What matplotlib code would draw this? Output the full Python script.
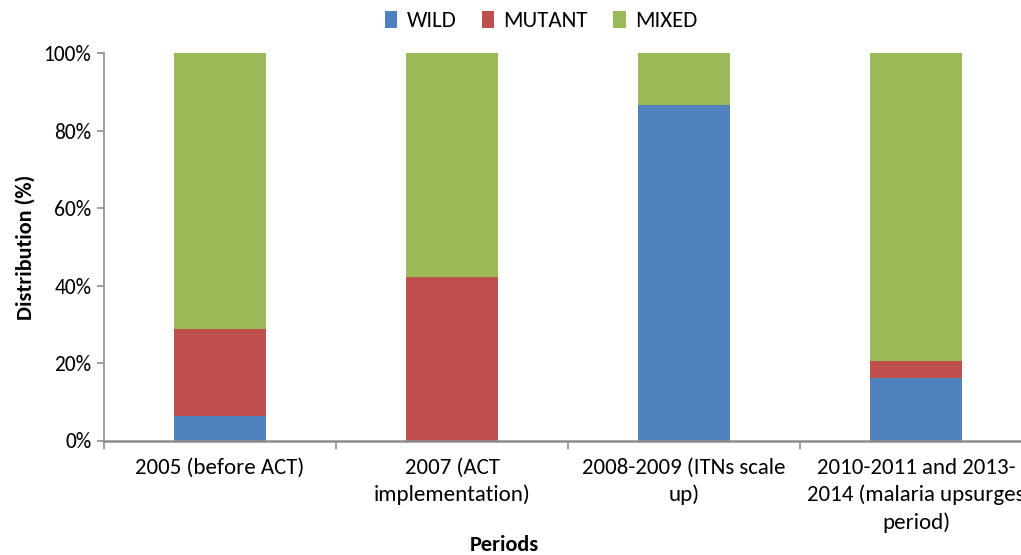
import matplotlib
matplotlib.use("Agg")
import matplotlib.pyplot as plt
import numpy as np

plt.rcParams['font.family'] = ['Carlito', 'Liberation Sans Narrow', 'Lato', 'DejaVu Sans']

categories = ["2005 (before ACT)", "2007 (ACT\nimplementation)", "2008-2009 (ITNs scale\nup)",
              "2010-2011 and 2013-\n2014 (malaria upsurges\nperiod)"]
series_names = ["WILD", "MUTANT", "MIXED"]
wild = [6.4, 0.0, 86.7, 16.2]
mutant = [22.4, 42.2, 0.0, 4.3]
mixed = [100 - w - m for w, m in zip(wild, mutant)]
colors = ["#4f81bd", "#c0504d", "#9bbb59"]
yticks = [0, 20, 40, 60, 80, 100]
ytick_labels = ["0%", "20%", "40%", "60%", "80%", "100%"]

fig = plt.figure(figsize=(10.21, 5.55), dpi=100)
W, H = 1021, 555
left, right, top, bottom = 104, 1032, 53.3, 440.5
ax = fig.add_axes([left / W, 1 - bottom / H, (right - left) / W, (bottom - top) / H])

x = np.arange(len(categories))
bw = 0.4
ax.bar(x, wild, bw, color=colors[0], label=series_names[0])
ax.bar(x, mutant, bw, bottom=wild, color=colors[1], label=series_names[1])
ax.bar(x, mixed, bw, bottom=[w + m for w, m in zip(wild, mutant)], color=colors[2], label=series_names[2])

ax.set_xlim(-0.5, len(categories) - 0.5)
ax.set_ylim(0, 100)
grey = "#8c8c8c"
for s in ["top", "right"]:
    ax.spines[s].set_visible(False)
ax.spines["left"].set_color(grey)
ax.spines["bottom"].set_color(grey)
ax.spines["left"].set_linewidth(1.2)
ax.spines["bottom"].set_linewidth(1.8)

ax.set_yticks(yticks)
ax.set_yticklabels(ytick_labels, fontsize=15.5)
ax.tick_params(axis='y', length=5, color=grey, width=1.2, pad=4)

ax.set_xticks(np.arange(len(categories) + 1) - 0.5)
ax.set_xticklabels([])
ax.tick_params(axis='x', length=6, color=grey, width=1.2)
for i, c in enumerate(categories):
    ax.text(i, -4.4, c, ha='center', va='top', fontsize=16.5, linespacing=1.42,
            transform=ax.transData)

ax.set_ylabel("Distribution (%)", fontsize=16, fontweight='bold', labelpad=6)
fig.text(504 / W, 1 - 545 / H, "Periods", ha='center', va='center', fontsize=16, fontweight='bold')

leg = fig.legend(loc='center', bbox_to_anchor=(541 / W, 1 - 21 / H), ncol=3, frameon=False,
                 fontsize=16.5, handlelength=0.55, handleheight=0.8, handletextpad=0.4,
                 columnspacing=1.1)

fig.savefig("out.png", dpi=100)
